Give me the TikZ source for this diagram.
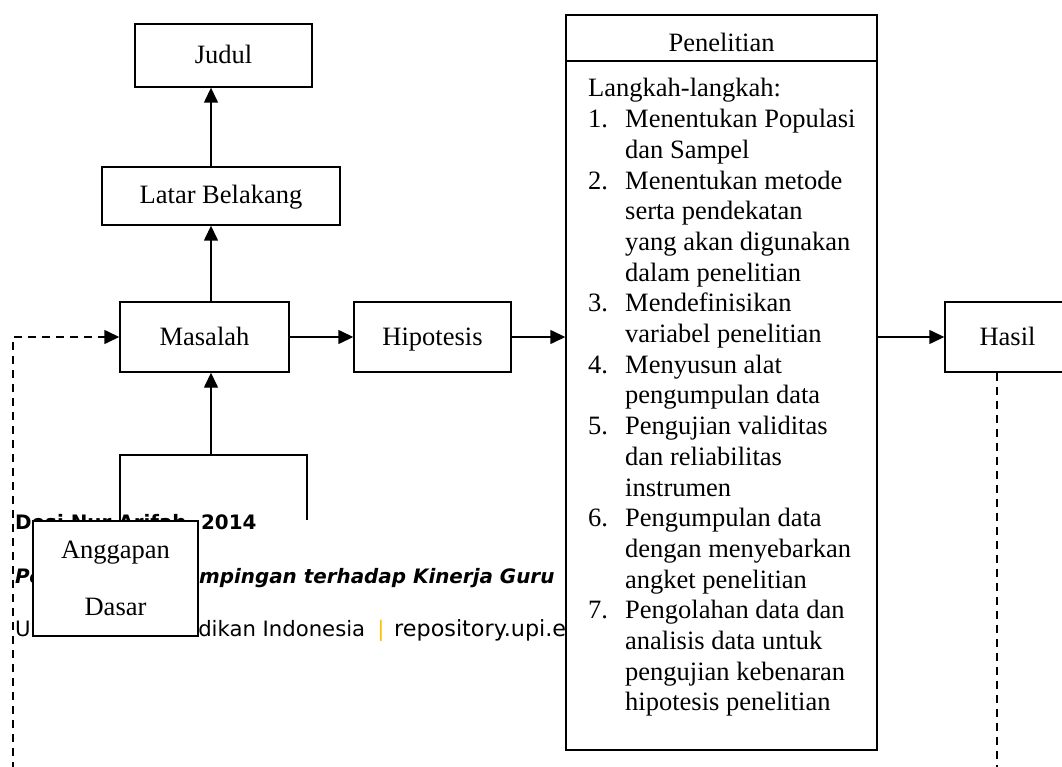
\documentclass[tikz,border=0pt]{standalone}
\usepackage{fontspec}
\setmainfont{Liberation Serif}
\newfontfamily\footfont{DejaVu Sans}
\usetikzlibrary{arrows.meta}
\definecolor{upigold}{RGB}{255,192,0}
\newcommand\pitem[1]{\makebox[37pt][l]{#1}}
\newcommand\pind{\hspace*{37pt}}
\begin{document}
\begin{tikzpicture}[x=1pt,y=-1pt,
  box/.style={draw, line width=1.4pt, fill=white, inner sep=0pt, font=\fontsize{26.5}{30.7}\selectfont},
  onebox/.style={box, text height=18pt, text depth=2pt},
  arr/.style={line width=1.4pt, -{Triangle[length=15pt,width=14pt]}},
  dsh/.style={line width=1.4pt, dash pattern=on 8pt off 6pt},
  plain/.style={line width=1.4pt},
  foot/.style={inner sep=0pt, anchor=base west},
  footb/.style={foot, font=\footfont\bfseries\fontsize{19.9}{24}\selectfont},
  footbi/.style={foot, font=\footfont\bfseries\itshape\fontsize{19.9}{24}\selectfont},
  footr/.style={foot, font=\footfont\fontsize{21.2}{26}\selectfont},
  footr2/.style={foot, font=\footfont\fontsize{22.3}{26}\selectfont},
  txt/.style={inner sep=0pt, font=\fontsize{26.5}{30.7}\selectfont}]
\useasboundingbox (0,0) rectangle (1062,767);

% footer text (partly hidden by boxes)
\node[footb] (f1) at (15,529) {Desi Nur Arifah, 2014};
\node[footbi] (f2) at (15,583) {Pengaruh Pendampingan terhadap Kinerja Guru};
\node[footr] (f3) at (15,636) {Universitas Pendidikan Indonesia};
\node[footr, anchor=base] (f4) at (381,636) {\color{upigold}|};
\node[footr2] (f5) at (394,636) {repository.upi.edu};

% helper coordinates
\coordinate (ax) at (211,0);
\coordinate (bl) at (120,455);
\coordinate (br) at (307,455);
\coordinate (brend) at (307,520);
\coordinate (bm) at (211,455);
\coordinate (dl) at (13,770);
\coordinate (dr) at (997,770);
\coordinate (hy) at (0,61);

% boxes
\node[onebox, minimum width=177pt, minimum height=63pt] (judul) at (223.5,55.5) {Judul};
\node[onebox, minimum width=238pt, minimum height=58pt] (latar) at (221,196) {Latar Belakang};
\node[onebox, minimum width=169pt, minimum height=70pt] (masalah) at (204.5,337) {Masalah};
\node[onebox, minimum width=157pt, minimum height=70pt] (hipo) at (432.5,337) {Hipotesis};
\node[onebox, minimum width=125pt, minimum height=70pt] (hasil) at (1007.5,337) {Hasil};
\node[box, minimum width=311pt, minimum height=735pt] (pen) at (721.5,382.5) {};
\node[box, align=center, minimum width=165pt, minimum height=115pt, font=\fontsize{26.5}{57}\selectfont] (angg) at (115.5,578.5) {Anggapan\\Dasar};

% Penelitian contents
\draw[plain] (pen.west |- hy) -- (pen.east |- hy);
\node[txt] (pentitle) at (721.5,42) {Penelitian};
\node[txt, anchor=base west] (steps) at (588,97) {\parbox[t]{285pt}{%
Langkah-langkah:\\
\pitem{1.}Menentukan Populasi\\
\pind dan Sampel\\
\pitem{2.}Menentukan metode\\
\pind serta pendekatan\\
\pind yang akan digunakan\\
\pind dalam penelitian\\
\pitem{3.}Mendefinisikan\\
\pind variabel penelitian\\
\pitem{4.}Menyusun alat\\
\pind pengumpulan data\\
\pitem{5.}Pengujian validitas\\
\pind dan reliabilitas\\
\pind instrumen\\
\pitem{6.}Pengumpulan data\\
\pind dengan menyebarkan\\
\pind angket penelitian\\
\pitem{7.}Pengolahan data dan\\
\pind analisis data untuk\\
\pind pengujian kebenaran\\
\pind hipotesis penelitian}};

% connectors
\draw[arr] (latar.north -| ax) -- (judul.south -| ax);
\draw[arr] (masalah.north -| ax) -- (latar.south -| ax);
\draw[arr] (bm) -- (masalah.south -| bm);
\draw[plain] (angg.north -| bl) -- (bl) -- (br) -- (brend);
\draw[arr] (masalah) -- (hipo);
\draw[arr] (hipo.east) -- (hipo.east -| pen.west);
\draw[arr] (hasil.west -| pen.east) -- (hasil.west);
\draw[dsh, -{Triangle[length=15pt,width=14pt]}] (dl) |- (masalah.west);
\draw[dsh] (hasil.south -| dr) -- (dr);
\end{tikzpicture}
\end{document}
